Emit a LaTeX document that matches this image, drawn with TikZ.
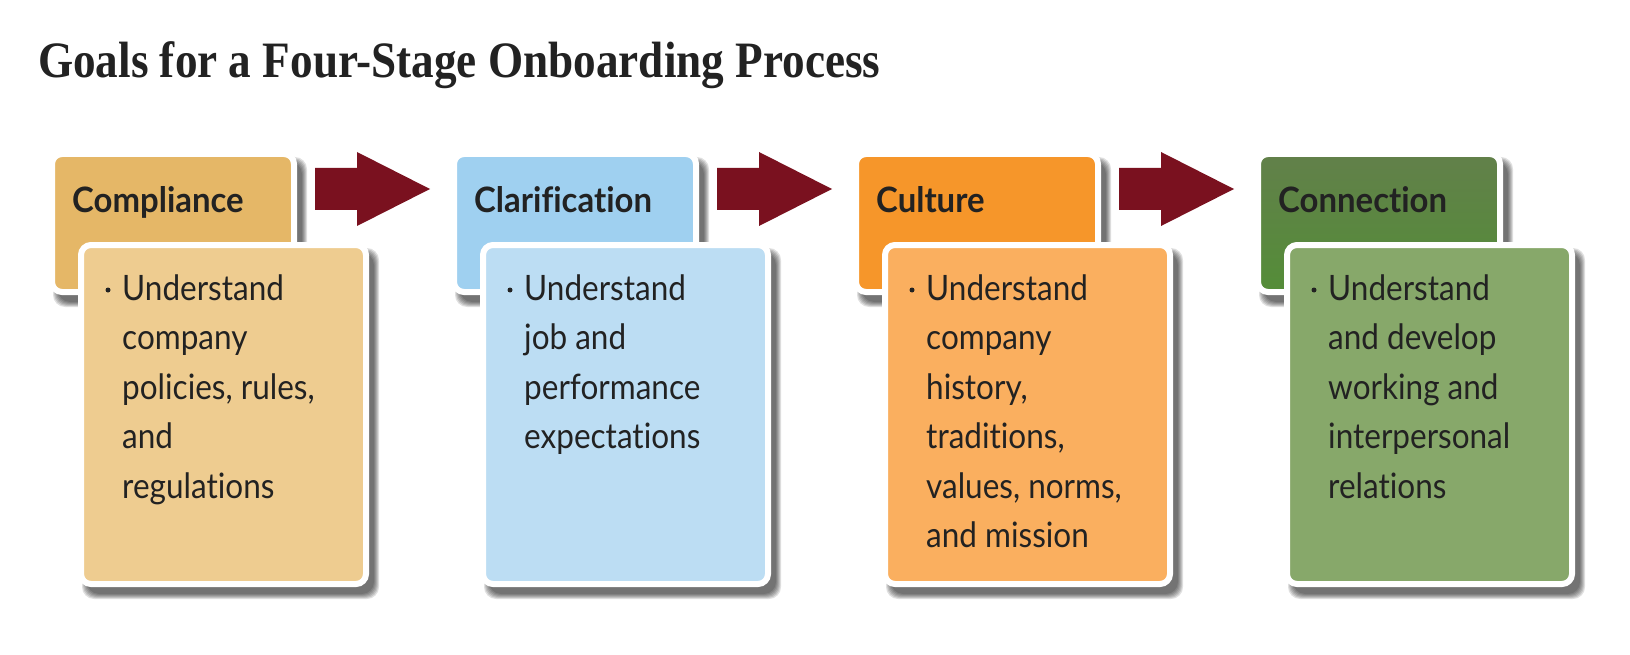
\documentclass[tikz,border=0pt]{standalone}
\usepackage{fontspec}
\newfontfamily\latobody[FakeStretch=0.9, Ligatures=NoCommon]{Lato}
\newfontfamily\latohead[FakeStretch=0.94, Ligatures=NoCommon]{Lato}
\newfontfamily\titlefont{Liberation Serif}
\usetikzlibrary{calc}
\pgfdeclarelayer{bg}
\pgfsetlayers{bg,main}
\definecolor{arrowred}{HTML}{7A111F}
\definecolor{textgray}{HTML}{222222}
\definecolor{hdrA}{HTML}{E5B767}
\definecolor{bodyA}{HTML}{EECC90}
\definecolor{hdrB}{HTML}{9FD0F0}
\definecolor{bodyB}{HTML}{BCDDF3}
\definecolor{hdrC}{HTML}{F6962A}
\definecolor{bodyC}{HTML}{FAAF5F}
\definecolor{hdrDtop}{HTML}{62804A}
\definecolor{hdrDbot}{HTML}{548D38}
\definecolor{bodyD}{HTML}{87A86A}
\tikzset{
  hdrbox/.style={draw=white, line width=6pt, rounded corners=10pt, minimum width=242pt, minimum height=138pt, inner sep=0pt, anchor=north west},
  bodybox/.style={draw=white, line width=6pt, rounded corners=10pt, minimum width=285pt, minimum height=339pt, inner sep=0pt, anchor=north west},
  hdrtext/.style={anchor=base west, inner sep=0pt, font=\latohead\bfseries\fontsize{35}{42}\selectfont, text=textgray},
  bodytext/.style={anchor=base west, inner sep=0pt, font=\latobody\fontsize{35}{49.5}\selectfont, text=textgray},
  bulletmark/.style={circle, fill=textgray, minimum size=5pt, inner sep=0pt},
  stagearrow/.style={fill=arrowred},
  shadowlayer/.style={fill=black, opacity=0.12, rounded corners=12pt},
}
\newcommand\softshadowof[1]{%
  \foreach \k in {0,...,5}{%
    \fill[shadowlayer] ($(#1.north west)+(4+\k,6+\k)$) rectangle ($(#1.south east)+(10-\k,12-\k)$);
  }%
}
\newcommand\lineset[1]{\begin{tabular}[t]{@{}l@{}}#1\end{tabular}}
\begin{document}
\begin{tikzpicture}[x=1pt,y=-1pt]
\useasboundingbox (0,0) rectangle (1630,655);

\node[anchor=base west, inner sep=0pt, text=textgray, font=\titlefont\bfseries\fontsize{51}{60}\selectfont] (title) at (38,78)
  {\scalebox{0.886}[1]{Goals for a Four-Stage Onboarding Process}};

% Stage 1
\node[hdrbox, fill=hdrA] (h1) at (49,151) {};
\node[bodybox, fill=bodyA] (b1) at (78,242) {};
% Stage 2
\node[hdrbox, fill=hdrB] (h2) at (451,151) {};
\node[bodybox, fill=bodyB] (b2) at (480,242) {};
% Stage 3
\node[hdrbox, fill=hdrC] (h3) at (853,151) {};
\node[bodybox, fill=bodyC] (b3) at (882,242) {};
% Stage 4
\node[hdrbox, top color=hdrDtop, bottom color=hdrDbot] (h4) at (1255,151) {};
\node[bodybox, fill=bodyD] (b4) at (1284,242) {};

\begin{pgfonlayer}{bg}
\fill[white] (0,0) rectangle (1630,655);
\softshadowof{h1}\softshadowof{b1}
\softshadowof{h2}\softshadowof{b2}
\softshadowof{h3}\softshadowof{b3}
\softshadowof{h4}\softshadowof{b4}
\end{pgfonlayer}

% headers
\node[hdrtext] (t1) at ($(h1.north west)+(23,62)$) {Compliance};
\node[hdrtext] (t2) at ($(h2.north west)+(23,62)$) {Clarification};
\node[hdrtext] (t3) at ($(h3.north west)+(23,62)$) {Culture};
\node[hdrtext] (t4) at ($(h4.north west)+(23,62)$) {Connection};

% bodies
\node[bulletmark] (d1) at ($(b1.north west)+(30,48)$) {};
\node[bodytext] (x1) at ($(b1.north west)+(44,58)$) {\lineset{Understand\\company\\policies, rules,\\and\\regulations}};
\node[bulletmark] (d2) at ($(b2.north west)+(30,48)$) {};
\node[bodytext] (x2) at ($(b2.north west)+(44,58)$) {\lineset{Understand\\job and\\performance\\expectations}};
\node[bulletmark] (d3) at ($(b3.north west)+(30,48)$) {};
\node[bodytext] (x3) at ($(b3.north west)+(44,58)$) {\lineset{Understand\\company\\history,\\traditions,\\values, norms,\\and mission}};
\node[bulletmark] (d4) at ($(b4.north west)+(30,48)$) {};
\node[bodytext] (x4) at ($(b4.north west)+(44,58)$) {\lineset{Understand\\and develop\\working and\\interpersonal\\relations}};

% arrows
\foreach \a/\b in {h1/h2, h2/h3, h3/h4}{
  \coordinate (s\a) at ($(\a.north east)+(18,17)$);
  \fill[stagearrow] (s\a) -- ++(42,0) -- ++(0,-16) -- ($(\b.north west)+(-21,38)$) -- ($(s\a)+(42,58)$) -- ++(0,-16) -- ++(-42,0) -- cycle;
}
\end{tikzpicture}
\end{document}
